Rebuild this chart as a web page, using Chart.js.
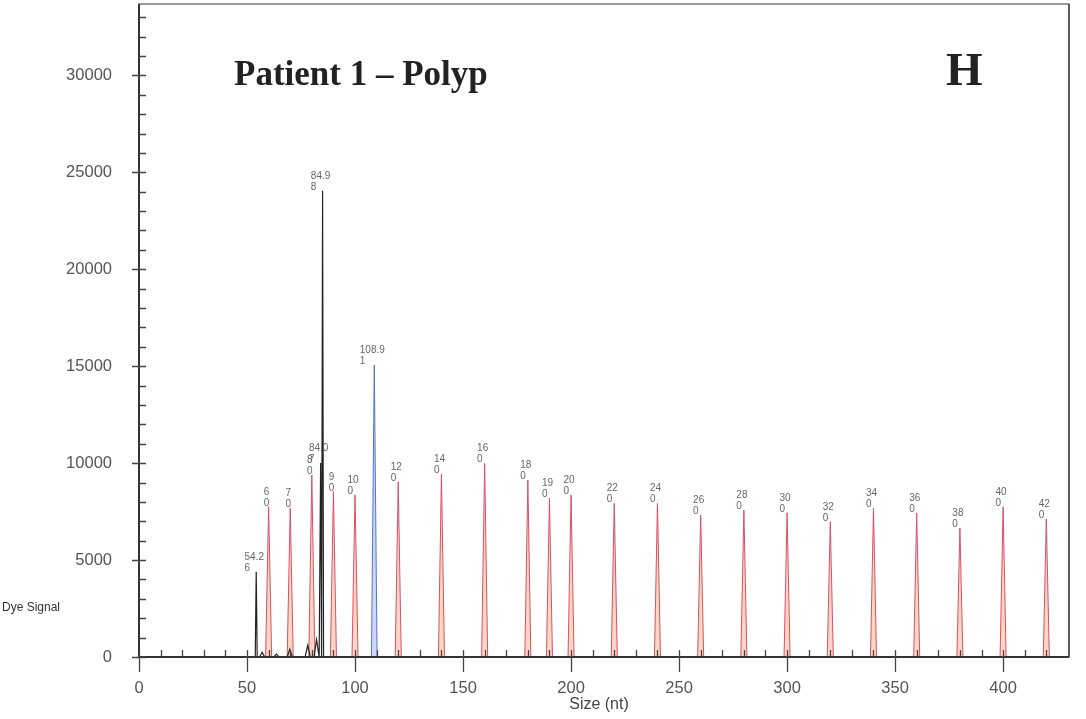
<!DOCTYPE html>
<html><head><meta charset="utf-8">
<script src="https://cdn.jsdelivr.net/npm/chart.js@4/dist/chart.umd.min.js"></script>
<style>html,body{margin:0;padding:0;background:#fff;overflow:hidden}#wrap{width:1086px;height:719px}</style>
</head><body><div id="wrap"><canvas id="c" width="1086" height="719"></canvas></div>
<script>
// ---- data ----
const sizeStdX = [60,70,80,90,100,120,140,160,180,190,200,220,240,260,280,300,320,340,360,380,400,420];
const sizeStdY = [7750,7670,9390,8530,8360,9040,9420,9990,9130,8180,8360,7920,7920,7320,7580,7440,6980,7680,7430,6650,7740,7120];
const sizeStdLabels = [["6","0"],["7","0"],["8","0"],["9","0"],["10","0"],["12","0"],["14","0"],["16","0"],["18","0"],["19","0"],["20","0"],["22","0"],["24","0"],["26","0"],["28","0"],["30","0"],["32","0"],["34","0"],["36","0"],["38","0"],["40","0"],["42","0"]];
const samplePeakX = [54.26, 84.07, 84.98];
const samplePeakY = [4400, 10000, 24050];
const samplePeakLabels = [["54.2","6"],["84.0","7"],["84.9","8"]];
const sampleBumpX = [57.0, 63.6, 69.8, 78.1, 82.2];
const sampleBumpY = [250, 150, 400, 600, 900];
const bluePeakX = [108.91];
const bluePeakY = [15060];
const bluePeakLabels = [["108.9","1"]];
const xTickValues = [0,50,100,150,200,250,300,350,400];
const yTickValues = [0,5000,10000,15000,20000,25000,30000];
const xMinorValues = [10,20,30,40,60,70,80,90,110,120,130,140,160,170,180,190,210,220,230,240,260,270,280,290,310,320,330,340,360,370,380,390,410,420];
const yMinorValues = [1000,2000,3000,4000,6000,7000,8000,9000,11000,12000,13000,14000,16000,17000,18000,19000,21000,22000,23000,24000,26000,27000,28000,29000,31000,32000,33000];
const X_MAX = 430.5, Y_MAX = 33680;

function peakPoints(groups, start, end){
  const pts = [{x:start,y:0},{x:end,y:0}];
  groups.forEach(([xs, ys, w]) => {
    xs.forEach((x,i) => { pts.push({x:x-w,y:0},{x:x,y:ys[i]},{x:x+w,y:0}); });
  });
  pts.sort((a,b)=>a.x-b.x);
  return pts;
}

const blackData = peakPoints([[samplePeakX, samplePeakY, 0.45],[sampleBumpX, sampleBumpY, 1.2]], 53, X_MAX);
const blueData = peakPoints([[bluePeakX, bluePeakY, 1.3]], 56, X_MAX);
const redData = peakPoints([[sizeStdX, sizeStdY, 1.4]], 56, X_MAX);

const decor = {
  id:'decor',
  afterDatasetsDraw(chart){
    const ctx = chart.ctx, xs = chart.scales.x, ys = chart.scales.y, a = chart.chartArea;
    ctx.save();
    // frame
    ctx.strokeStyle = '#555'; ctx.lineWidth = 1.2;
    ctx.strokeRect(a.left, a.top, a.right - a.left, a.bottom - a.top);
    ctx.strokeStyle = '#333'; ctx.lineWidth = 2;
    ctx.beginPath(); ctx.moveTo(a.left, a.top); ctx.lineTo(a.left, a.bottom); ctx.lineTo(a.right, a.bottom); ctx.stroke();
    ctx.lineWidth = 1.5; ctx.strokeStyle = '#444';
    ctx.beginPath(); ctx.moveTo(a.right, a.top); ctx.lineTo(a.right, a.bottom); ctx.stroke();
    // ticks
    ctx.strokeStyle = '#444'; ctx.lineWidth = 1.3;
    ctx.beginPath();
    yTickValues.forEach(v => { const y = Math.round(ys.getPixelForValue(v))+0.5; ctx.moveTo(a.left-7, y); ctx.lineTo(a.left+7, y); });
    yMinorValues.forEach(v => { const y = Math.round(ys.getPixelForValue(v))+0.5; ctx.moveTo(a.left, y); ctx.lineTo(a.left+7, y); });
    xTickValues.forEach(v => { const x = Math.round(xs.getPixelForValue(v))+0.5; ctx.moveTo(x, a.bottom-7); ctx.lineTo(x, a.bottom+15); });
    xMinorValues.forEach(v => { const x = Math.round(xs.getPixelForValue(v))+0.5; ctx.moveTo(x, a.bottom-7); ctx.lineTo(x, a.bottom); });
    ctx.stroke();
    // peak labels
    ctx.fillStyle = '#666'; ctx.font = '10px "Liberation Sans", Arial'; ctx.textBaseline = 'alphabetic'; ctx.textAlign = 'left';
    const lab = (xsArr, ysArr, labels) => xsArr.forEach((x,i) => {
      const px = xs.getPixelForValue(x), py = ys.getPixelForValue(ysArr[i]);
      const w = ctx.measureText(labels[i][0]).width;
      const left = px - w/2 - 2;
      ctx.fillText(labels[i][0], left, py - 12);
      ctx.fillText(labels[i][1], left, py - 1);
    });
    lab(sizeStdX, sizeStdY, sizeStdLabels);
    lab(samplePeakX, samplePeakY, samplePeakLabels);
    lab(bluePeakX, bluePeakY, bluePeakLabels);
    // titles
    ctx.fillStyle = '#222';
    ctx.font = 'bold 35px "Liberation Serif", "Times New Roman", serif';
    ctx.fillText('Patient 1 \u2013 Polyp', 234, 85);
    ctx.font = 'bold 47px "Liberation Serif", "Times New Roman", serif';
    ctx.fillText('H', 946, 85);
    ctx.fillStyle = '#444';
    ctx.font = '16px "Liberation Sans", Arial';
    ctx.textAlign = 'center'; ctx.textBaseline = 'middle';
    ctx.fillText('Size (nt)', 599, 705);
    ctx.font = '12px "Liberation Sans", Arial';
    ctx.textAlign = 'left'; ctx.fillStyle = '#333';
    ctx.fillText('Dye Signal', 2, 608);
    ctx.restore();
  }
};

new Chart(document.getElementById('c'), {
  type: 'line',
  data: { datasets: [
    { label:'sample', data: blackData, borderColor:'#222', borderWidth:1.2, pointRadius:0, fill:false, tension:0 },
    { label:'blue', data: blueData, borderColor:'#4a78d8', borderWidth:1, pointRadius:0, fill:'origin', backgroundColor:'rgba(160,160,235,0.45)', tension:0 },
    { label:'size standard', data: redData, borderColor:'#d9506a', borderWidth:1, pointRadius:0, fill:'origin', backgroundColor:'rgba(245,175,130,0.5)', tension:0 }
  ]},
  options: {
    responsive:false, animation:false, devicePixelRatio:1,
    layout:{ autoPadding:false, padding:{ top:4, right:17, left:0, bottom:0 } },
    plugins:{ legend:{display:false}, tooltip:{enabled:false}, title:{display:false} },
    scales:{
      x:{ type:'linear', min:0, max:X_MAX,
        grid:{ display:false }, border:{ display:false },
        afterBuildTicks: s => { s.ticks = xTickValues.map(v=>({value:v})); },
        afterFit: s => { s.height = 62; s.paddingLeft = 0; s.paddingRight = 0; },
        ticks:{ padding:14, color:'#555', font:{ family:'"Liberation Sans", Arial', size:16.5 }, maxRotation:0, autoSkip:false }
      },
      y:{ type:'linear', min:0, max:Y_MAX,
        grid:{ display:false }, border:{ display:false },
        afterBuildTicks: s => { s.ticks = yTickValues.map(v=>({value:v})); },
        afterFit: s => { s.width = 139; s.paddingTop = 0; s.paddingBottom = 0; },
        ticks:{ padding:19, color:'#555', font:{ family:'"Liberation Sans", Arial', size:16.5 }, callback: v => String(v) }
      }
    }
  },
  plugins:[decor]
});
</script></body></html>
